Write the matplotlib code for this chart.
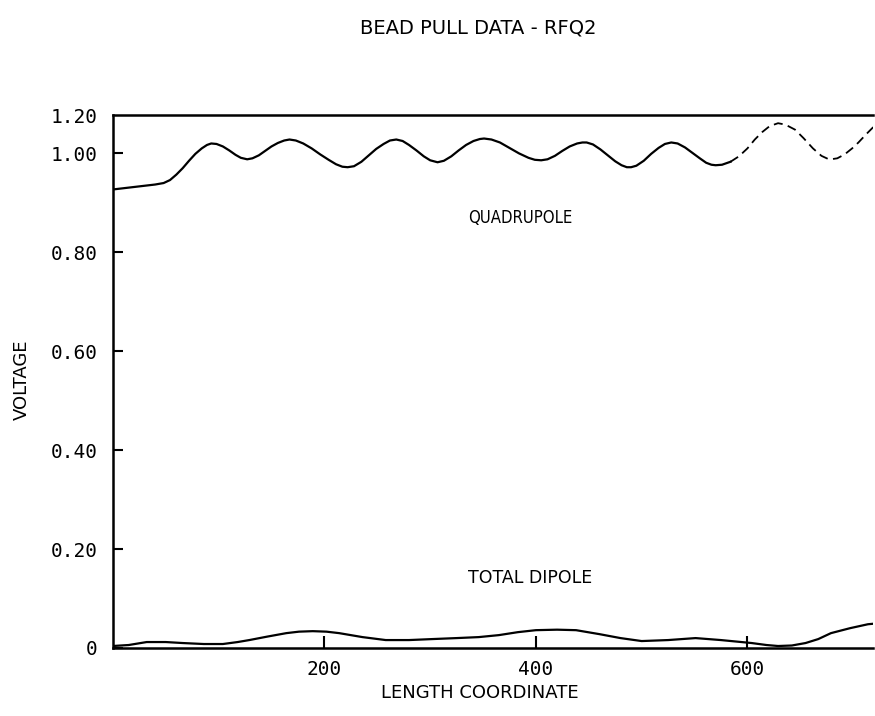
import numpy as np
import matplotlib; matplotlib.use("Agg"); import matplotlib.pyplot as plt

QUAD_X=[0,20,40,48,54,60,66,72,78,84,89,93,98,104,110,116,121,127,132,138,144,150,156,162,167,173,180,188,196,
        204,211,217,222,228,235,242,249,256,262,268,274,280,287,294,300,307,313,320,327,334,341,347,351,358,366,
        375,384,393,399,405,411,418,425,432,439,444,448,454,461,468,475,481,486,490,495,502,509,516,522,528,534,
        541,548,555,561,566,570,576,584]
QUAD_V=[0.927,0.932,0.937,0.940,0.946,0.957,0.970,0.985,0.999,1.010,1.017,1.020,1.019,1.014,1.006,0.997,0.991,
        0.988,0.990,0.996,1.005,1.014,1.021,1.026,1.028,1.026,1.020,1.010,0.998,0.987,0.978,0.973,0.972,0.974,
        0.983,0.996,1.009,1.019,1.026,1.028,1.025,1.017,1.006,0.994,0.986,0.982,0.985,0.994,1.006,1.017,1.025,
        1.029,1.030,1.028,1.022,1.011,1.000,0.991,0.987,0.986,0.988,0.995,1.005,1.014,1.020,1.022,1.022,1.018,
        1.008,0.996,0.984,0.976,0.972,0.972,0.975,0.985,0.999,1.011,1.019,1.022,1.020,1.012,1.001,0.990,0.981,
        0.977,0.976,0.977,0.983]
# faint tail of the quadrupole trace (plotter dropout)
QUAD_TAIL_X=[584,592,600,607,614,621,629,636,645,653,662,670,676,679,685,692,699,705,712,719]
QUAD_TAIL_V=[0.983,0.994,1.010,1.028,1.043,1.055,1.061,1.058,1.048,1.031,1.010,0.995,0.989,0.988,0.990,0.998,
             1.010,1.022,1.038,1.053]
DIP_X=[0,15,32,50,66,86,104,118,129,146,164,176,189,202,214,236,258,280,302,325,346,365,383,400,420,438,460,480,
       500,525,551,575,604,618,629,642,655,667,679,697,714,719]
DIP_V=[0.004,0.006,0.012,0.012,0.010,0.008,0.008,0.012,0.016,0.023,0.030,0.033,0.034,0.033,0.030,0.022,0.016,
       0.016,0.018,0.020,0.022,0.026,0.032,0.036,0.037,0.036,0.028,0.020,0.014,0.016,0.020,0.016,0.010,0.006,
       0.004,0.005,0.010,0.018,0.030,0.040,0.048,0.049]
YTOP=1.077
YTICKS=[0,0.2,0.4,0.6,0.8,1.0,YTOP]
YLABELS=["0","0.20","0.40","0.60","0.80","1.00","1.20"]
XTICKS=[200,400,600]

MONO="DejaVu Sans Mono"; SANS="DejaVu Sans"
fig=plt.figure(figsize=(8.75,7.16),dpi=100)
ax=fig.add_axes([0.129,0.095,0.869,0.744])
ax.plot(QUAD_X,QUAD_V,color="black",lw=1.6)
ax.plot(QUAD_TAIL_X,QUAD_TAIL_V,color="black",lw=1.3,ls=(0,(5,3)))
ax.plot(DIP_X,DIP_V,color="black",lw=1.6)
ax.set_xlim(0,719); ax.set_ylim(0,YTOP)
ax.set_xticks(XTICKS); ax.set_xticklabels([str(t) for t in XTICKS],fontfamily=MONO,fontsize=14)
ax.set_yticks(YTICKS); ax.set_yticklabels(YLABELS,fontfamily=MONO,fontsize=14)
ax.tick_params(axis="both",direction="in",width=1.5,color="black")
ax.tick_params(axis="x",length=9,pad=9); ax.tick_params(axis="y",length=7,pad=11)
ax.yaxis.get_major_ticks()[-1].tick1line.set_visible(False)
for s in ["left","bottom","top"]: ax.spines[s].set_linewidth(1.8)
ax.spines["right"].set_visible(False)
fig.text(0.535,0.696,"QUADRUPOLE",fontfamily=SANS,fontstretch="condensed",fontsize=12,va="center")
fig.text(0.535,0.193,"TOTAL DIPOLE",fontfamily=SANS,fontsize=12.5,va="center")
fig.text(0.547,0.961,"BEAD PULL DATA - RFQ2",fontfamily=SANS,fontsize=14,ha="center",va="center")
fig.text(0.548,0.032,"LENGTH COORDINATE",fontfamily=SANS,fontsize=13,ha="center",va="center")
fig.text(0.025,0.469,"VOLTAGE",fontfamily=SANS,fontsize=13,ha="center",va="center",rotation=90)
fig.savefig("out.png",dpi=100); plt.close(fig)
